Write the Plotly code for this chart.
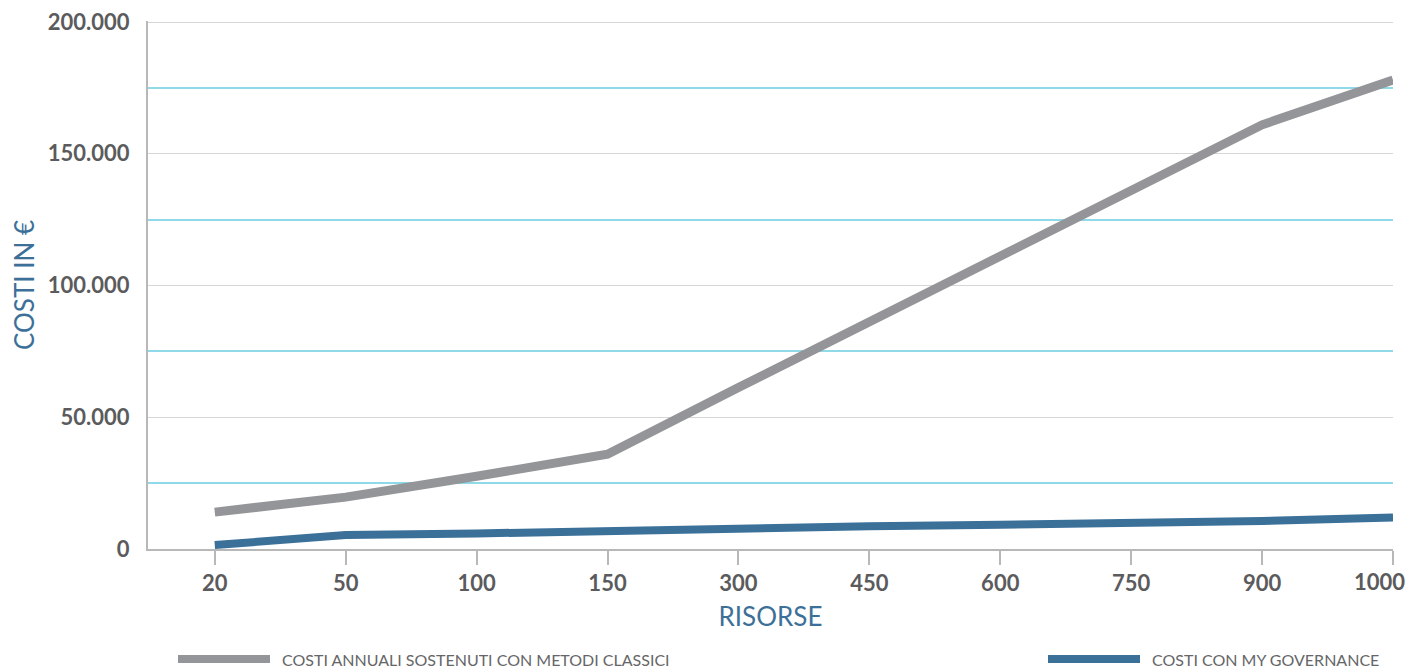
import plotly.graph_objects as go

categories = ["20", "50", "100", "150", "300", "450", "600", "750", "900", "1000"]
classic_costs = [14000, 19700, 27600, 36000, 61300, 86000, 111000, 136000, 161000, 178000]
mygov_costs = [1500, 5300, 5900, 7000, 7800, 8600, 9200, 9800, 10600, 12000]
y_ticks = [0, 50000, 100000, 150000, 200000]
y_tick_labels = ["0", "50.000", "100.000", "150.000", "200.000"]
legend_names = ["COSTI ANNUALI SOSTENUTI CON METODI CLASSICI", "COSTI CON MY GOVERNANCE"]

GRAY = "#939598"
BLUE = "#3b7099"
CYAN = "#8fd9e8"
TXT = "#5b5b5d"
TITLE = "#3d7099"

# page has an 8px body margin; work in figure coordinates
OFF = 8
W, H = 1405, 660
L, R, T, B = 148 - OFF, 1393 - OFF, 21 - OFF, 549 - OFF

xpos = list(range(len(categories)))
# the last label sits at the right edge; it is drawn nudged left (as in the reference)
tick_text = categories[:-1] + [""]

fig = go.Figure()
fig.add_trace(go.Scatter(x=xpos, y=classic_costs, mode="lines",
                         line=dict(color=GRAY, width=9), name=legend_names[0],
                         showlegend=False))
fig.add_trace(go.Scatter(x=xpos, y=mygov_costs, mode="lines",
                         line=dict(color=BLUE, width=8), name=legend_names[1],
                         showlegend=False))

def px_x(px):
    return (px - OFF - L) / (R - L)

def px_y(py):
    return (B - (py - OFF)) / (B - T)

TICKFONT = dict(family="Lato", size=22, color=TXT, weight="bold")

fig.add_annotation(xref="x", yref="paper", x=xpos[-1], y=px_y(581),
                   text=categories[-1], showarrow=False, xanchor="right",
                   yanchor="middle", xshift=13, borderpad=0, font=TICKFONT)

# manual legend (page pixel positions)
legend_items = [(178, 270, GRAY, legend_names[0]), (1048, 1140, BLUE, legend_names[1])]
for x0, x1, col, name in legend_items:
    fig.add_shape(type="line", xref="paper", yref="paper",
                  x0=px_x(x0), x1=px_x(x1), y0=px_y(659), y1=px_y(659),
                  line=dict(color=col, width=8))
    fig.add_annotation(xref="paper", yref="paper", x=px_x(x1 + 10), y=px_y(659),
                       text=name, showarrow=False, xanchor="left", yanchor="middle",
                       font=dict(family="Lato", size=16, color="#666668"))

fig.update_layout(
    width=W, height=H, autosize=False,
    margin=dict(l=L, r=W - R, t=T, b=H - B, autoexpand=False),
    paper_bgcolor="white", plot_bgcolor="white",
    separators=",.",
    font=dict(family="Lato", color=TXT),
    xaxis=dict(
        range=[-0.51, 9], tickmode="array", tickvals=xpos, ticktext=tick_text,
        automargin=False,
        showgrid=False, zeroline=False, showline=True, linecolor="#b8b8b8", linewidth=2,
        ticks="outside", ticklen=14, tickwidth=2, tickcolor="#b8b8b8",
        ticklabeloverflow="allow",
        tickfont=TICKFONT,
        title=dict(text="RISORSE", font=dict(family="Lato", size=26, color=TITLE), standoff=12),
    ),
    yaxis=dict(
        range=[0, 200400], tickmode="array", tickvals=y_ticks, ticktext=y_tick_labels,
        automargin=False,
        showgrid=True, gridcolor="#d6d6d6", gridwidth=1, zeroline=False,
        showline=True, linecolor="#b8b8b8", linewidth=2, ticks="",
        ticklabelstandoff=12, ticklabeloverflow="allow",
        tickfont=TICKFONT,
        minor=dict(tickmode="array", tickvals=[25000, 75000, 125000, 175000],
                   showgrid=True, gridcolor=CYAN, gridwidth=1.5, ticks=""),
        title=dict(text="COSTI IN €", font=dict(family="Lato", size=26, color=TITLE), standoff=14),
    ),
)

fig.write_html("out.html")
